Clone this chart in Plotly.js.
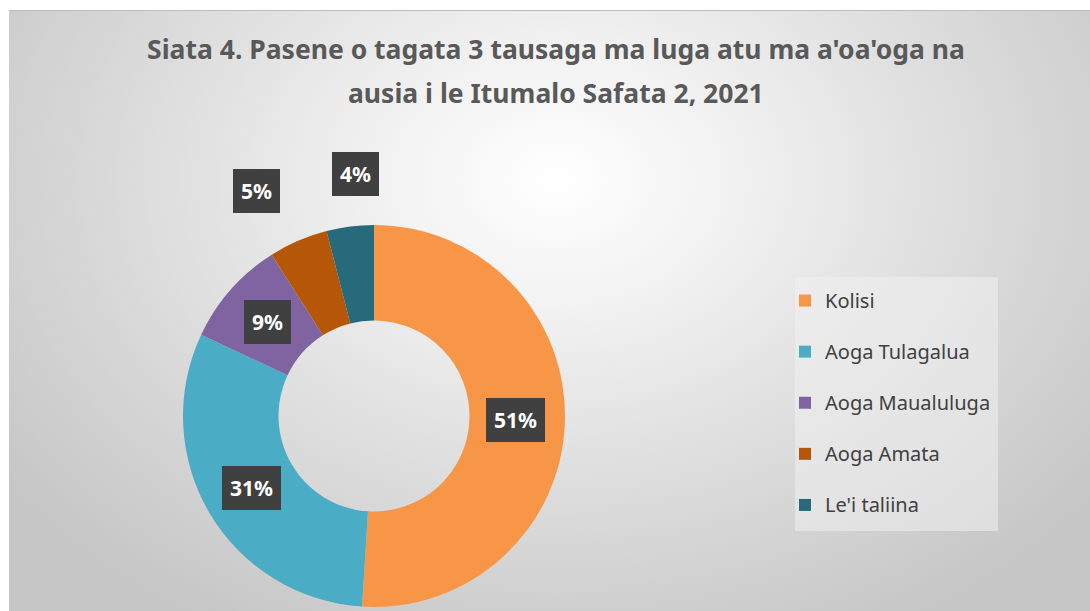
<!DOCTYPE html>
<html>
<head>
<meta charset="utf-8">
<script src="https://cdn.plot.ly/plotly-3.0.1.min.js"></script>
<style>
  html, body { margin: 0; padding: 0; background: #ffffff; width: 1090px; height: 611px; overflow: hidden; }
  #bg { position: absolute; left: 9px; top: 10px; width: 1095px; height: 601px;
        border-top: 1px solid #bdbdbd;
        background: radial-gradient(ellipse 62% 85% at 50% 28%, #ffffff 0%, #f2f2f2 25%, #e0e0e0 55%, #c6c6c6 100%); }
  #chart { position: absolute; left: 0; top: 0; width: 1090px; height: 611px; }
</style>
</head>
<body>
<div id="bg"></div>
<div id="chart"></div>
<script>
const categories = ["Kolisi", "Aoga Tulagalua", "Aoga Maualuluga", "Aoga Amata", "Le'i taliina"];
const percents = [51, 31, 9, 5, 4];
const colors = ["#F79646", "#4BACC6", "#8064A2", "#B65708", "#276A7C"];
const titleLine1 = "Siata 4. Pasene o tagata 3 tausaga ma luga atu ma a'oa'oga na";
const titleLine2 = "ausia i le Itumalo Safata 2, 2021";

const W = 1090, H = 611;
// donut geometry (pixels)
const cx = 374, cy = 416, R = 191;
const labelR = 142;
// labels that were dragged outside the ring in the original (pixel positions)
const labelOverride = { 3: [256, 191], 4: [355, 174] };

const titleFont = { family: "Noto Sans, sans-serif", size: 26.5, color: "#595959" };

const total = percents.reduce((a, b) => a + b, 0);
let cum = 0;
const annotations = [];
percents.forEach((v, i) => {
  const mid = (cum + v / 2) / total * 2 * Math.PI;
  cum += v;
  let px = cx + labelR * Math.sin(mid);
  let py = cy - labelR * Math.cos(mid);
  if (labelOverride[i]) { px = labelOverride[i][0]; py = labelOverride[i][1]; }
  annotations.push({
    x: px / W, y: 1 - py / H, xref: "paper", yref: "paper",
    xanchor: "center", yanchor: "middle",
    text: "<b>" + v + "%</b>", showarrow: false,
    font: { family: "Noto Sans, sans-serif", size: 21, color: "#ffffff" },
    bgcolor: "#404040", borderpad: 8, borderwidth: 0
  });
});
// second title line
annotations.push({
  x: 556 / W, y: 1 - 93 / H, xref: "paper", yref: "paper",
  xanchor: "center", yanchor: "middle", showarrow: false,
  text: "<b>" + titleLine2 + "</b>", font: titleFont
});

const trace = {
  type: "pie",
  labels: categories.map(c => '<span style="font-size:20px;baseline-shift:7px">' + c + '</span>'),
  values: percents,
  hole: 0.5,
  sort: false,
  direction: "clockwise",
  rotation: 0,
  marker: { colors: colors, line: { width: 0 } },
  textinfo: "none",
  hoverinfo: "label+percent",
  domain: { x: [(cx - R) / W, (cx + R) / W], y: [1 - (cy + R) / H, 1 - (cy - R) / H] }
};

const layout = {
  width: W, height: H,
  margin: { l: 0, r: 0, t: 0, b: 0 },
  paper_bgcolor: "rgba(0,0,0,0)",
  plot_bgcolor: "rgba(0,0,0,0)",
  title: {
    text: "<b>" + titleLine1 + "</b>",
    x: 556 / W, xanchor: "center", y: 1 - 50 / H, yanchor: "middle",
    font: titleFont
  },
  showlegend: true,
  legend: {
    x: 785 / W, xanchor: "left", y: 1 - 270 / H, yanchor: "top",
    bgcolor: "rgba(0,0,0,0)",
    font: { family: "Noto Sans, sans-serif", size: 37, color: "#404040" },
    traceorder: "normal",
    entrywidth: 175,
    itemclick: false
  },
  shapes: [{
    type: "rect", xref: "paper", yref: "paper",
    x0: 795 / W, x1: 998 / W, y0: 1 - 531 / H, y1: 1 - 277 / H,
    fillcolor: "rgba(240,240,240,0.55)", line: { width: 0 }, layer: "below"
  }],
  annotations: annotations
};

Plotly.newPlot("chart", [trace], layout, { displayModeBar: false, staticPlot: true });
</script>
</body>
</html>
